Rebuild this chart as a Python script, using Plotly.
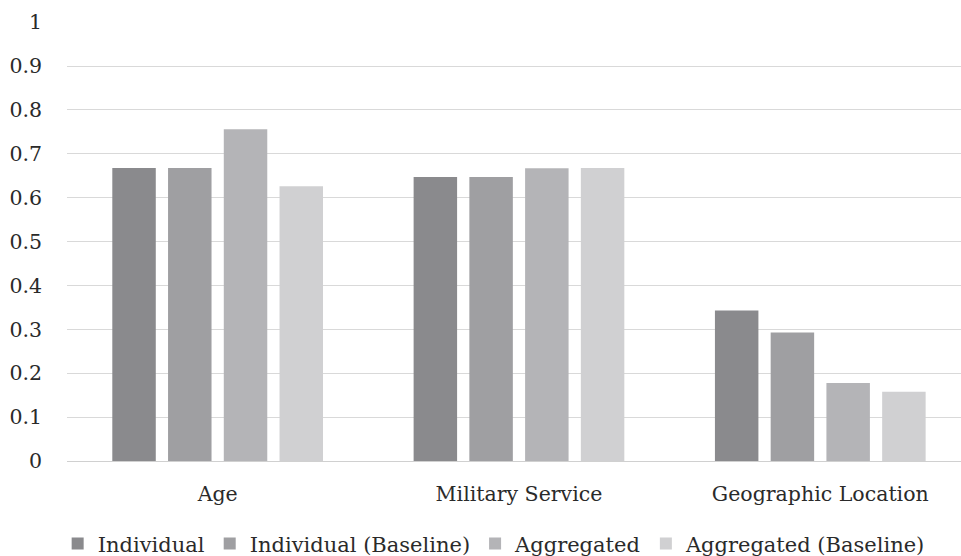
import plotly.graph_objects as go

categories = ["Age", "Military Service", "Geographic Location"]
series_names = ["Individual", "Individual (Baseline)", "Aggregated", "Aggregated (Baseline)"]
individual = [0.668, 0.647, 0.343]
individual_baseline = [0.668, 0.647, 0.293]
aggregated = [0.756, 0.667, 0.178]
aggregated_baseline = [0.626, 0.668, 0.158]
y_ticks = [0, 0.1, 0.2, 0.3, 0.4, 0.5, 0.6, 0.7, 0.8, 0.9, 1]
y_tick_labels = ["0", "0.1", "0.2", "0.3", "0.4", "0.5", "0.6", "0.7", "0.8", "0.9", "1"]

colors = ["#8a8a8d", "#9f9fa2", "#b4b4b7", "#d0d0d2"]
values = [individual, individual_baseline, aggregated, aggregated_baseline]

font_family = "DejaVu Serif"
text_color = "#2a2a2a"

fig = go.Figure()
for name, vals, col in zip(series_names, values, colors):
    fig.add_trace(go.Bar(x=categories, y=vals, name=name,
                         marker=dict(color=col, line=dict(width=0))))

fig.update_layout(
    width=961, height=556,
    margin=dict(l=67, r=0, t=22, b=95, autoexpand=False),
    paper_bgcolor="white", plot_bgcolor="white",
    barmode="group", bargap=0.26, bargroupgap=0.22,
    font=dict(family=font_family, size=20.5, color=text_color),
    showlegend=True,
    legend=dict(orientation="h", xref="container", yref="container",
                x=0.06, xanchor="left", y=0.022, yanchor="middle",
                font=dict(family=font_family, size=21, color=text_color),
                traceorder="normal"),
)
fig.update_xaxes(range=[-0.5, 2.467], showgrid=False, showline=True,
                 linecolor="#d0d0d0", linewidth=1, ticks="",
                 ticklabelstandoff=14,
                 tickfont=dict(family=font_family, size=20.5, color=text_color))
fig.update_yaxes(range=[0, 1.0005], tickvals=y_ticks, ticktext=y_tick_labels,
                 showgrid=True, gridcolor="#d9d9d9", gridwidth=1,
                 zeroline=False, showline=False, ticks="",
                 ticklabelstandoff=24,
                 tickfont=dict(family=font_family, size=20.5, color=text_color))

fig.write_html("out.html")
